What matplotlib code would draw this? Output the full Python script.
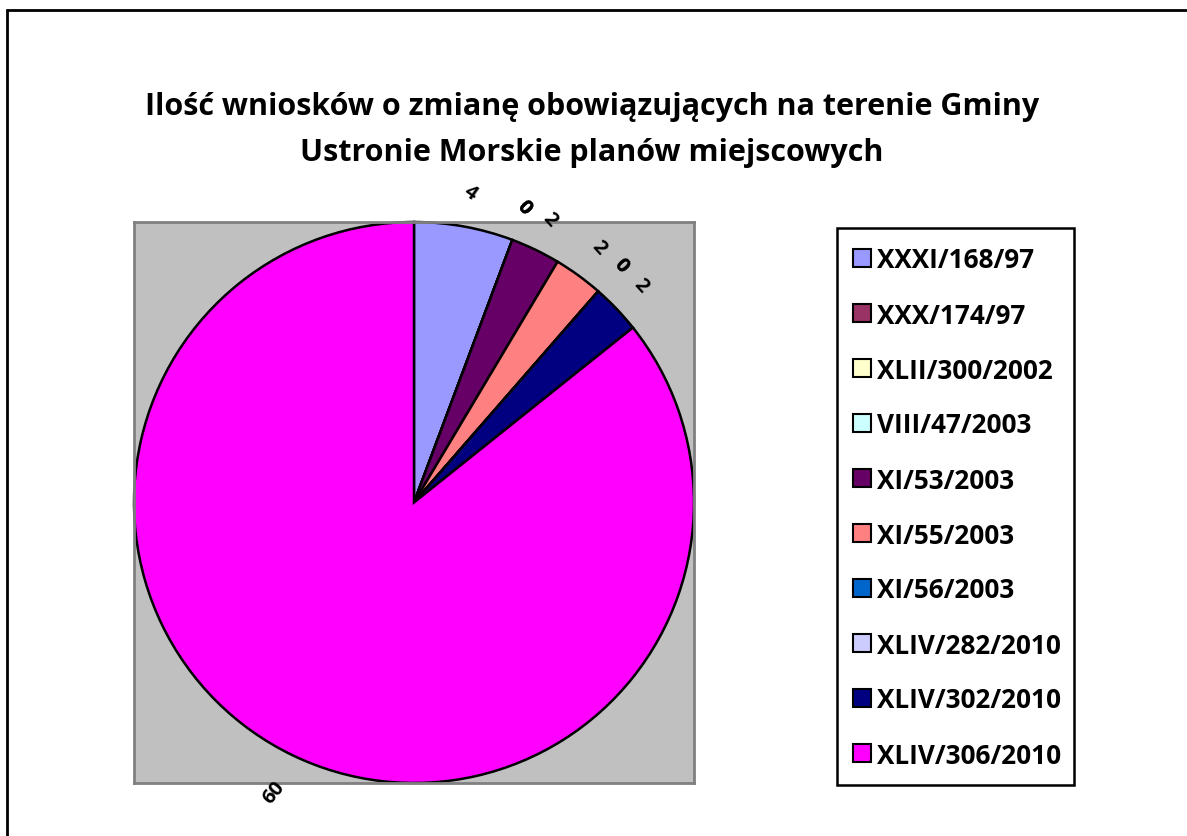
import matplotlib
matplotlib.use("Agg")
import matplotlib.pyplot as plt
from matplotlib.patches import Rectangle
import numpy as np

categories = ["XXXI/168/97", "XXX/174/97", "XLII/300/2002", "VIII/47/2003",
              "XI/53/2003", "XI/55/2003", "XI/56/2003", "XLIV/282/2010",
              "XLIV/302/2010", "XLIV/306/2010"]
values = [4, 0, 0, 0, 2, 2, 0, 0, 2, 60]
colors = ["#9999FF", "#993366", "#FFFFCC", "#CCFFFF", "#660066",
          "#FF8080", "#0066CC", "#CCCCFF", "#000080", "#FF00FF"]
title = "Ilość wniosków o zmianę obowiązujących na terenie Gminy\nUstronie Morskie planów miejscowych"

plt.rcParams['font.family'] = ['Open Sans', 'DejaVu Sans']

W, H = 1187, 836
fig = plt.figure(figsize=(W / 100, H / 100), dpi=100)


def fx(px):
    return px / W


def fy(py):
    return 1 - py / H


# outer chart border (only left/top visible, the rest is cut off)
fig.patches.append(Rectangle((fx(7), fy(H + 20)), fx(W + 20), (H + 10) / H,
                             transform=fig.transFigure, fill=False,
                             edgecolor='black', linewidth=2))

fig.text(fx(592), fy(130), title, ha='center', va='center', fontsize=22,
         fontweight='bold', linespacing=1.68)

ax = fig.add_axes([fx(134), fy(783), fx(560), 561 / H])
wedges, _ = ax.pie(values, colors=colors, startangle=90, counterclock=False,
                   radius=1.0, wedgeprops=dict(edgecolor='black', linewidth=1.8))
ax.set_frame_on(True)
ax.patch.set_visible(True)
ax.set_facecolor('#C0C0C0')
for s in ax.spines.values():
    s.set_visible(True)
    s.set_color('#808080')
    s.set_linewidth(2)
ax.set_xlim(-1.0, 1.0)
ax.set_ylim(-1.0, 1.0)
ax.set_aspect('auto')
ax.set_xticks([])
ax.set_yticks([])

total = sum(values)
cum = 0
for i, v in enumerate(values):
    mid = (cum + v / 2) / total * 360
    cum += v
    theta = np.deg2rad(90 - mid)
    r = 1.12 if v < 30 else 1.15
    x, y = r * np.cos(theta), r * np.sin(theta)
    rot = 50 if mid > 180 else (-35 if mid < 15 else -48)
    ax.text(x, y, str(v), ha='center', va='center', rotation=rot,
            fontsize=14.5, fontweight='bold', clip_on=False)

# legend drawn manually to match the reference box
lx0, ly0, lx1, ly1 = 837, 228, 1074, 785
fig.patches.append(Rectangle((fx(lx0), fy(ly1)), fx(lx1 - lx0), (ly1 - ly0) / H,
                             transform=fig.transFigure, facecolor='white',
                             edgecolor='black', linewidth=1.8))
row0, step, msz = 258, 55, 18
for i, (cat, col) in enumerate(zip(categories, colors)):
    cy = row0 + i * step
    fig.patches.append(Rectangle((fx(853), fy(cy + msz / 2)), fx(msz), msz / H,
                                 transform=fig.transFigure, facecolor=col,
                                 edgecolor='black', linewidth=1.5))
    fig.text(fx(877), fy(cy), cat, ha='left', va='center_baseline',
             fontsize=18.8, fontweight='bold')

fig.savefig("out.png", dpi=100)
